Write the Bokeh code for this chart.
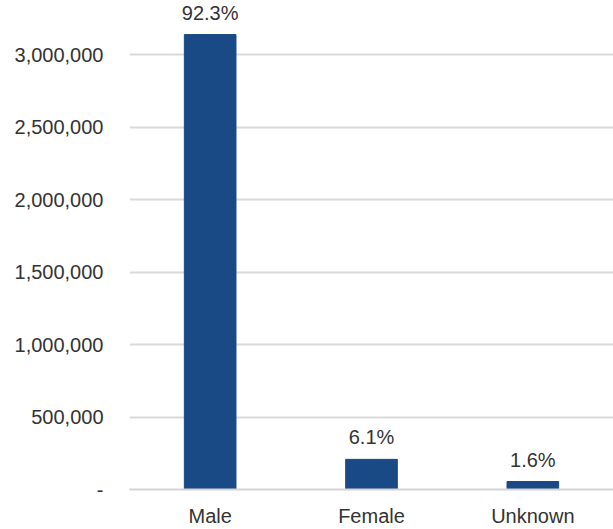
from bokeh.plotting import figure
from bokeh.models import ColumnDataSource, FixedTicker, Range1d, FactorRange
from bokeh.embed import file_html
from bokeh.resources import INLINE
from bokeh.core.properties import value

categories = ["Male", "Female", "Unknown"]
counts = [3140000, 208000, 55000]
pct_labels = ["92.3%", "6.1%", "1.6%"]
tick_values = [0, 500000, 1000000, 1500000, 2000000, 2500000, 3000000]
tick_labels = ["-", "500,000", "1,000,000", "1,500,000", "2,000,000", "2,500,000", "3,000,000"]

BAR = "#1A4A86"
TXT = "#333333"
FONT = "Liberation Sans"

src = ColumnDataSource(dict(cat=categories, val=counts, lab=pct_labels))

p = figure(x_range=FactorRange(*categories, range_padding=0), y_range=Range1d(0, 3375000),
           width=613, height=529, output_backend="svg", toolbar_location=None,
           min_border_left=129, min_border_right=0, min_border_top=0, min_border_bottom=39)
p.outline_line_color = None
p.background_fill_color = "white"
p.border_fill_color = "white"

p.vbar(x="cat", top="val", width=0.32, source=src, fill_color=BAR, line_color=BAR)
p.text(x="cat", y="val", text="lab", source=src, text_align="center", text_baseline="bottom",
       y_offset=-11, text_font=value(FONT), text_font_size="20px", text_color=TXT)

p.yaxis.ticker = FixedTicker(ticks=tick_values)
p.yaxis.major_label_overrides = {v: l for v, l in zip(tick_values, tick_labels)}
p.yaxis.axis_line_color = None
p.yaxis.major_tick_line_color = None
p.yaxis.minor_tick_line_color = None
p.yaxis.major_label_standoff = 20
p.yaxis.major_label_text_font = FONT
p.yaxis.major_label_text_font_size = "20px"
p.yaxis.major_label_text_color = TXT

p.xaxis.axis_line_color = "#d4d4d4"
p.xaxis.axis_line_width = 2
p.xaxis.major_tick_line_color = None
p.xaxis.minor_tick_line_color = None
p.xaxis.major_label_standoff = 9
p.xaxis.major_label_text_font = FONT
p.xaxis.major_label_text_font_size = "20px"
p.xaxis.major_label_text_color = TXT

p.xgrid.grid_line_color = None
p.ygrid.grid_line_color = "#d9d9d9"
p.ygrid.grid_line_width = 2

open("out.html", "w").write(file_html(p, INLINE))
